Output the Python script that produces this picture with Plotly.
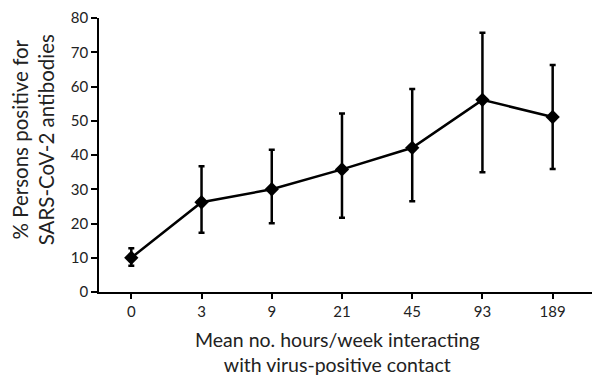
import plotly.graph_objects as go

categories = ["0", "3", "9", "21", "45", "93", "189"]
mean_pct = [10.0, 26.2, 30.0, 35.8, 42.1, 56.1, 51.1]
upper_pct = [12.8, 36.7, 41.5, 52.1, 59.3, 75.7, 66.3]
lower_pct = [7.7, 17.3, 20.1, 21.7, 26.5, 35.0, 35.9]

xpos = list(range(len(categories)))
err_plus = [u - m for u, m in zip(upper_pct, mean_pct)]
err_minus = [m - l for m, l in zip(mean_pct, lower_pct)]

FONT = "Lato, 'Open Sans', sans-serif"

fig = go.Figure()
fig.add_trace(go.Scatter(
    x=xpos, y=mean_pct,
    mode="lines+markers",
    line=dict(color="black", width=2.5),
    marker=dict(symbol="diamond", size=11, color="black"),
    error_y=dict(type="data", symmetric=False, array=err_plus, arrayminus=err_minus,
                 color="black", thickness=2.5, width=3),
    showlegend=False,
))

fig.update_layout(
    width=600, height=377,
    margin=dict(l=99, r=8, t=12, b=85),
    paper_bgcolor="white", plot_bgcolor="white",
    font=dict(family=FONT, size=15, color="#222"),
    xaxis=dict(
        range=[-0.46, 6.56], tickvals=xpos, ticktext=categories,
        showgrid=False, zeroline=False, showline=True, linecolor="black", linewidth=1.5,
        ticks="outside", ticklen=5, tickcolor="black", tickwidth=1.5,
        tickfont=dict(size=15, family=FONT),
    ),
    yaxis=dict(
        range=[0, 80], tickvals=[0, 10, 20, 30, 40, 50, 60, 70, 80],
        showgrid=False, zeroline=False, showline=True, linecolor="black", linewidth=1.5,
        ticks="outside", ticklen=6, tickcolor="black", tickwidth=1.5,
        tickfont=dict(size=15, family=FONT), ticklabeloverflow="allow",
    ),
    annotations=[
        dict(text="Mean no. hours/week interacting<br>with virus-positive contact",
             xref="paper", yref="paper", x=(337 - 99) / 493, y=-0.125,
             xanchor="center", yanchor="top", showarrow=False,
             font=dict(size=19.5, family=FONT, color="#222")),
        dict(text="% Persons positive for<br>SARS-CoV-2 antibodies",
             xref="paper", yref="paper", x=(33 - 99) / 493, y=(292 - 137) / 280,
             xanchor="center", yanchor="middle", showarrow=False, textangle=-90,
             font=dict(size=20.5, family=FONT, color="#222")),
    ],
)

fig.write_html("out.html", config={"displayModeBar": False},
               post_script="document.body.style.margin='0';")
